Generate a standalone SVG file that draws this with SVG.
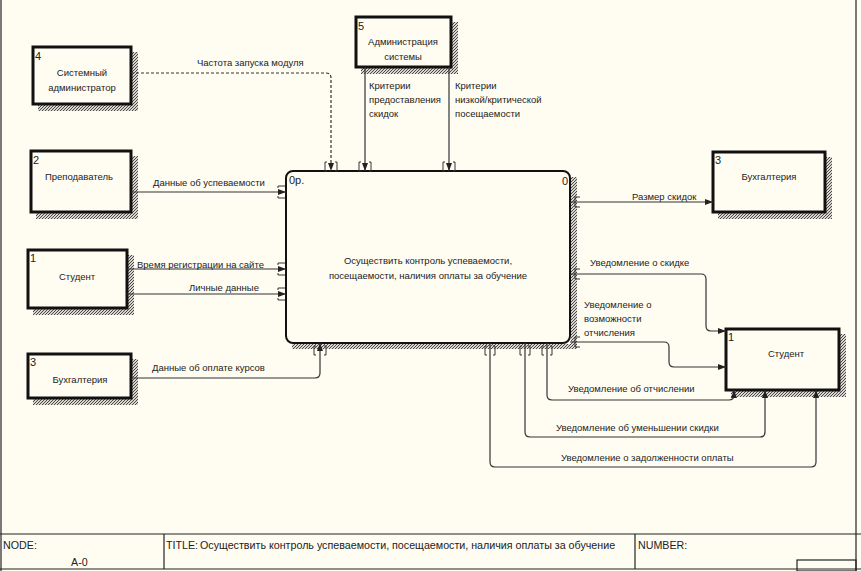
<svg xmlns="http://www.w3.org/2000/svg" width="861" height="571" viewBox="0 0 861 571">
<defs>
<pattern id="hatch" width="3" height="3" patternUnits="userSpaceOnUse">
<rect width="3" height="3" fill="#d8d6cc"/>
<path d="M0,3 L3,0" stroke="#4a4a4a" stroke-width="1"/>
</pattern>
<marker id="ah" markerWidth="8" markerHeight="6" refX="8" refY="3" orient="auto" markerUnits="userSpaceOnUse">
<path d="M0,0 L8,3 L0,6 z" fill="#222"/>
</marker>
<style>
text{font-family:"Liberation Sans",Arial,sans-serif;fill:#222;}
.lbl{font-size:9.5px;}
.box{fill:#fffdf2;stroke:#111;stroke-width:3;}
.sh{fill:url(#hatch);}
.num{font-size:11px;}
.bt{font-size:9.5px;text-anchor:middle;}
.c{fill:none;stroke:#333;stroke-width:1.2;marker-end:url(#ah);}
.br{fill:none;stroke:#333;stroke-width:1;}
.fr{fill:none;stroke:#222;stroke-width:1.2;}
.ft{font-size:10.7px;}
</style>
</defs>
<rect width="861" height="571" fill="#fffdf2"/>
<g id="frame">
<line class="fr" x1="1" y1="0" x2="1" y2="571"/>
<line class="fr" x1="856" y1="0" x2="856" y2="571"/>
<line class="fr" x1="0" y1="534" x2="861" y2="534"/>
<line class="fr" x1="0" y1="569" x2="861" y2="569"/>
<line class="fr" x1="164" y1="534" x2="164" y2="569"/>
<line class="fr" x1="635" y1="534" x2="635" y2="569"/>
<rect class="fr" x="797" y="560" width="59" height="11"/>
<text class="ft" x="3" y="549">NODE:</text>
<text class="ft" x="71" y="566">A-0</text>
<text class="ft" x="166" y="549">TITLE:</text>
<text class="ft" x="200" y="549">Осуществить контроль успеваемости, посещаемости, наличия оплаты за обучение</text>
<text class="ft" x="638" y="549">NUMBER:</text>
</g>
<g id="main">
<rect class="sh" x="571" y="177" width="6" height="172"/>
<rect class="sh" x="292" y="344" width="285" height="5"/>
<rect x="286" y="171" width="284" height="172" rx="7" fill="#fffdf2" stroke="#111" stroke-width="2"/>
<text class="num" x="289" y="184">0р.</text>
<text class="num" x="562" y="185">0</text>
<text class="bt" x="428" y="264">Осуществить контроль успеваемости,</text>
<text class="bt" x="428" y="279">посещаемости, наличия оплаты за обучение</text>
</g>
<g id="sysadmin">
<rect class="sh" x="132" y="52" width="6" height="58"/>
<rect class="sh" x="38" y="105" width="100" height="6"/>
<rect class="box" x="33" y="47" width="98" height="57"/>
<text class="num" x="35" y="60">4</text>
<text class="bt" x="82" y="76">Системный</text>
<text class="bt" x="82" y="91">администратор</text>
</g>
<g id="teacher">
<rect class="sh" x="132" y="156" width="6" height="62"/>
<rect class="sh" x="36" y="213" width="102" height="6"/>
<rect class="box" x="31" y="151" width="100" height="61"/>
<text class="num" x="33" y="164">2</text>
<text class="bt" x="79" y="180">Преподаватель</text>
</g>
<g id="student-left">
<rect class="sh" x="128" y="255" width="6" height="59"/>
<rect class="sh" x="33" y="309" width="101" height="6"/>
<rect class="box" x="28" y="250" width="99" height="58"/>
<text class="num" x="30" y="262">1</text>
<text class="bt" x="77" y="280">Студент</text>
</g>
<g id="accounting-left">
<rect class="sh" x="132" y="359" width="6" height="45"/>
<rect class="sh" x="33" y="399" width="105" height="6"/>
<rect class="box" x="28" y="354" width="103" height="44"/>
<text class="num" x="30" y="366">3</text>
<text class="bt" x="80" y="383">Бухгалтерия</text>
</g>
<g id="admin">
<rect class="sh" x="452" y="22" width="6" height="51"/>
<rect class="sh" x="361" y="68" width="97" height="6"/>
<rect class="box" x="356" y="17" width="95" height="50"/>
<text class="num" x="358" y="30">5</text>
<text class="bt" x="403" y="45">Администрация</text>
<text class="bt" x="403" y="60">системы</text>
</g>
<g id="accounting-right">
<rect class="sh" x="826" y="157" width="6" height="61"/>
<rect class="sh" x="718" y="213" width="114" height="6"/>
<rect class="box" x="713" y="152" width="112" height="60"/>
<text class="num" x="715" y="164">3</text>
<text class="bt" x="769" y="180">Бухгалтерия</text>
</g>
<g id="student-right">
<rect class="sh" x="840" y="334" width="6" height="62"/>
<rect class="sh" x="731" y="391" width="115" height="6"/>
<rect class="box" x="726" y="329" width="113" height="61"/>
<text class="num" x="728" y="341">1</text>
<text class="bt" x="786" y="357">Студент</text>
</g>
<g id="connectors">
<path class="c" d="M131,73 H326 Q331,73 331,78 V171" stroke-dasharray="3,2"/>
<path class="c" d="M365,67 V171"/>
<path class="c" d="M449,67 V171"/>
<path class="c" d="M131,192 H286"/>
<path class="c" d="M127,269 H286"/>
<path class="c" d="M127,294 H286"/>
<path class="c" d="M131,378 H315 Q320,378 320,373 V343"/>
<path class="c" d="M570,202 H713"/>
<path class="c" d="M570,274 H701 Q706,274 706,279 V326 Q706,331 711,331 H726"/>
<path class="c" d="M570,342 H664 Q669,342 669,347 V362 Q669,367 674,367 H726"/>
<path class="c" d="M547,343 V395 Q547,400 552,400 H729 Q734,400 734,395 V390"/>
<path class="c" d="M525,343 V432 Q525,437 530,437 H760 Q765,437 765,432 V390"/>
<path class="c" d="M490,343 V462 Q490,467 495,467 H811 Q816,467 816,462 V390"/>
<path class="br" d="M327,162 H325 V171 H327 M335,162 H337 V171 H335 M361,162 H359 V171 H361 M369,162 H371 V171 H369 M445,162 H443 V171 H445 M453,162 H455 V171 H453"/>
<path class="br" d="M278,188 V186 H285 M278,196 V198 H285 M278,265 V263 H285 M278,273 V275 H285 M278,290 V288 H285 M278,298 V300 H285"/>
<path class="br" d="M580,197 H575 V207 H580 M580,269 H575 V279 H580 M580,337 H575 V347 H580"/>
<path class="br" d="M316,346 H314 V355 H316 M324,346 H326 V355 H324 M487,346 H485 V355 H487 M493,346 H495 V355 H493 M522,346 H520 V355 H522 M528,346 H530 V355 H528 M544,346 H542 V355 H544 M550,346 H552 V355 H550"/>
<text class="lbl" x="197" y="66">Частота запуска модуля</text>
<text class="lbl" x="369" y="89">Критерии</text>
<text class="lbl" x="369" y="103">предоставления</text>
<text class="lbl" x="369" y="117">скидок</text>
<text class="lbl" x="455" y="89">Критерии</text>
<text class="lbl" x="455" y="103">низкой/критической</text>
<text class="lbl" x="455" y="117">посещаемости</text>
<text class="lbl" x="153" y="186">Данные об успеваемости</text>
<text class="lbl" x="137" y="268">Время регистрации на сайте</text>
<text class="lbl" x="189" y="291">Личные данные</text>
<text class="lbl" x="152" y="371">Данные об оплате курсов</text>
<text class="lbl" x="632" y="200">Размер скидок</text>
<text class="lbl" x="590" y="266">Уведомление о скидке</text>
<text class="lbl" x="584" y="308">Уведомление о</text>
<text class="lbl" x="584" y="322">возможности</text>
<text class="lbl" x="584" y="336">отчисления</text>
<text class="lbl" x="568" y="392">Уведомление об отчислении</text>
<text class="lbl" x="556" y="431">Уведомление об уменьшении скидки</text>
<text class="lbl" x="561" y="461">Уведомление о задолженности оплаты</text>
</g>
</svg>
